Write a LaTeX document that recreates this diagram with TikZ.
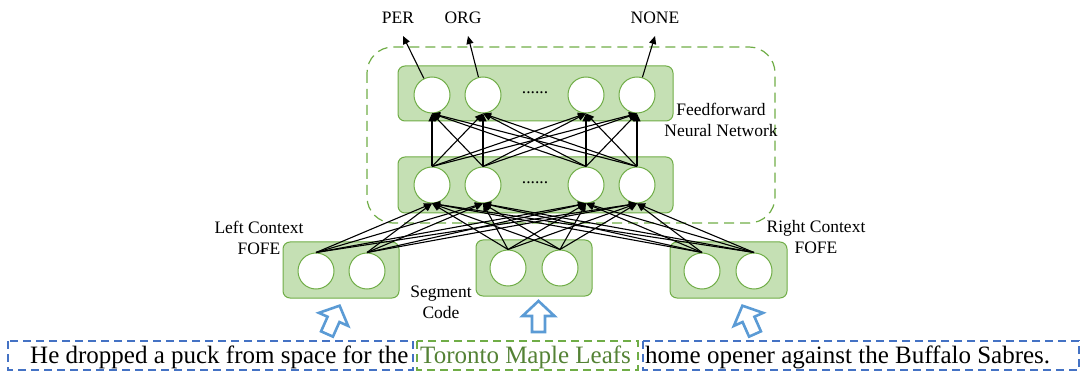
\documentclass[tikz,border=0pt]{standalone}
\usepackage{fontspec}
\setmainfont{Liberation Serif}
\usetikzlibrary{arrows.meta}
\definecolor{boxfill}{HTML}{C5E0B4}
\definecolor{boxline}{HTML}{70AD47}
\definecolor{wordblue}{HTML}{4472C4}
\definecolor{arrowblue}{HTML}{5B9BD5}
\definecolor{entitygreen}{HTML}{548235}
\tikzset{
  layerbox/.style={draw=boxline, fill=boxfill, line width=1pt, rounded corners=7pt},
  unit/.style={circle, draw=boxline, fill=white, line width=1pt, minimum size=36pt, inner sep=0pt},
  link/.style={black, line width=1.1pt, -{Triangle[length=8pt,width=7pt]}},
  lbl/.style={font=\fontsize{17.5}{21}\selectfont, align=center, inner sep=0pt},
  wordbox/.style={draw=wordblue, line width=1.8pt, dash pattern=on 8pt off 5pt},
  spanbox/.style={draw=boxline, line width=1.8pt, dash pattern=on 8pt off 5pt},
  sentence/.style={font=\fontsize{25}{29}\selectfont, inner sep=0pt, anchor=base west},
  blockarrow/.style={draw=arrowblue, line width=2.6pt, fill=white, line join=miter},
}
\newcommand{\hollowarrow}[3]{%
  \begin{scope}[shift={(#1,#2)}, rotate=#3]
    \draw[blockarrow] (-6.5,0) -- (-6.5,-16) -- (-16,-16) -- (0,-31) -- (16,-16) -- (6.5,-16) -- (6.5,0) -- cycle;
  \end{scope}}
\begin{document}
\begin{tikzpicture}[x=1pt, y=-1pt]
  \useasboundingbox (0,0) rectangle (1081,371);

  % feedforward network region
  \draw[boxline, line width=1.2pt, dash pattern=on 10pt off 6pt, rounded corners=26pt]
    (367,47) rectangle (775,223);

  % layer boxes
  \node[layerbox, minimum width=275pt, minimum height=55pt, inner sep=0pt] (toplayer) at (535.5,93.5) {};
  \node[layerbox, minimum width=275pt, minimum height=56pt, inner sep=0pt] (hidlayer) at (535.5,185) {};
  \node[layerbox, minimum width=116pt, minimum height=56pt, inner sep=0pt] (leftbox) at (341,270) {};
  \node[layerbox, minimum width=116pt, minimum height=56pt, inner sep=0pt] (segbox) at (534,268) {};
  \node[layerbox, minimum width=117pt, minimum height=56pt, inner sep=0pt] (rightbox) at (728.5,270) {};

  % output layer units
  \node[unit] (t1) at (432,95) {};
  \node[unit] (t2) at (483,95) {};
  \node[unit] (t3) at (586,95) {};
  \node[unit] (t4) at (637,95) {};
  \node[lbl] (tdots) at (535,93) {......};

  % hidden layer units
  \node[unit] (m1) at (432,185) {};
  \node[unit] (m2) at (483,185) {};
  \node[unit] (m3) at (586,185) {};
  \node[unit] (m4) at (637,185) {};
  \node[lbl] (mdots) at (535,183) {......};

  % input units
  \node[unit] (l1) at (316,271) {};
  \node[unit] (l2) at (367,271) {};
  \node[unit] (s1) at (508,268) {};
  \node[unit] (s2) at (560,268) {};
  \node[unit] (r1) at (702,271) {};
  \node[unit] (r2) at (754,271) {};

  % inputs to hidden layer
  \foreach \src in {l1,l2,s1,s2,r1,r2}
    \foreach \dst in {m1,m2,m3,m4}
      \draw[link] (\src.north) -- (\dst.south);

  % hidden layer to output layer
  \foreach \src in {m1,m2,m3,m4}
    \foreach \dst in {t1,t2,t3,t4}
      \draw[link] (\src.north) -- (\dst.south);

  % output labels
  \node[lbl] (per) at (398,18) {PER};
  \node[lbl] (org) at (463,18) {ORG};
  \node[lbl] (none) at (655,18) {NONE};
  \coordinate (perend) at (403,36);
  \coordinate (orgend) at (468,36);
  \coordinate (noneend) at (655,36);
  \draw[link] (t1) -- (perend);
  \draw[link] (t2) -- (orgend);
  \draw[link] (t4) -- (noneend);

  % side labels
  \node[lbl] (ffnn) at (721,120) {Feedforward\\Neural Network};
  \node[lbl] (leftlbl) at (259,238) {Left Context\\FOFE};
  \node[lbl] (rightlbl) at (816,237) {Right Context\\FOFE};
  \node[lbl] (seglbl) at (441,302) {Segment\\Code};

  % input arrows
  \hollowarrow{327}{334}{-24}
  \hollowarrow{538.5}{332}{0}
  \hollowarrow{755}{334}{24}

  % sentence split into left context, entity span and right context
  \draw[wordbox] (8,341) rectangle (413,370);
  \draw[spanbox] (417,341) rectangle (638,370);
  \draw[wordbox] (643,341) rectangle (1079,370);
  \node[sentence] (leftctx) at (30,363) {He dropped a puck from space for the};
  \node[sentence, text=entitygreen] (entity) at (420,363) {Toronto Maple Leafs};
  \node[sentence] (rightctx) at (645,363) {home opener against the Buffalo Sabres.};
\end{tikzpicture}
\end{document}
